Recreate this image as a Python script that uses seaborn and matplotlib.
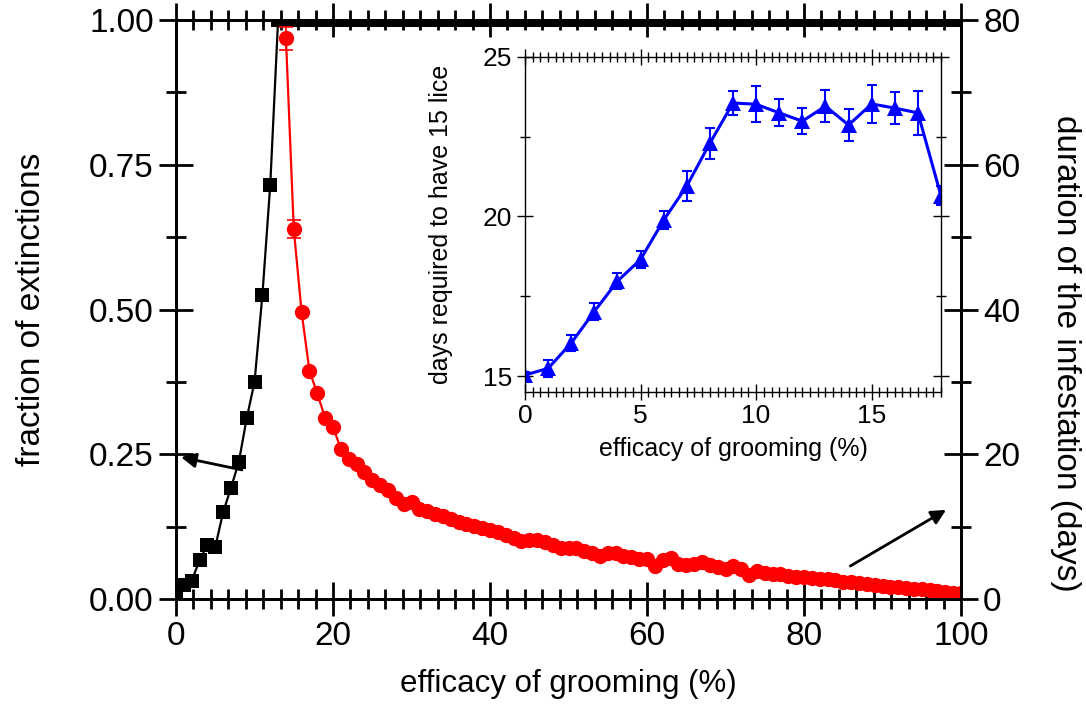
import numpy as np
import pandas as pd
import matplotlib
matplotlib.use("Agg")
import matplotlib.pyplot as plt
from matplotlib.ticker import MultipleLocator, AutoMinorLocator, FixedLocator
import seaborn as sns

# ---------------- data ----------------
# fraction of extinctions (left axis), efficacy 0..100 %
ext_x = list(range(0, 101))
ext_first = [0.01, 0.024, 0.032, 0.067, 0.094, 0.090, 0.150, 0.192, 0.237,
             0.312, 0.375, 0.525, 0.715]
ext_y = ext_first + [1.0] * (101 - len(ext_first))

# duration of the infestation (days, right axis), efficacy 14..100 %
dur_x = list(range(14, 101))
dur_y = [77.5, 51.1, 39.6, 31.5, 28.4, 25.0, 23.8, 20.7, 19.4, 18.7,
         17.6, 16.4, 15.8, 15.1, 13.9, 13.2, 13.4, 12.5, 12.1, 11.8,
         11.5, 11.1, 10.7, 10.4, 10.1, 9.8, 9.5, 9.3, 8.9, 8.5,
         8.0, 8.1, 8.2, 7.9, 7.4, 7.0, 7.0, 7.1, 6.7, 6.3,
         5.9, 6.4, 6.3, 6.0, 5.8, 5.6, 5.5, 4.6, 5.4, 5.7,
         4.8, 4.7, 4.8, 5.1, 4.7, 4.4, 4.1, 4.6, 4.1, 3.3,
         3.9, 3.6, 3.5, 3.4, 3.2, 3.0, 3.0, 2.9, 2.8, 2.7,
         2.6, 2.4, 2.3, 2.2, 2.1, 2.0, 1.8, 1.7, 1.6, 1.5,
         1.45, 1.35, 1.25, 1.15, 1.0, 0.9, 0.85]
dur_err_x = [14, 15]
dur_err = [1.6, 1.25]

# inset: days required to have 15 lice, efficacy 0..18 %
ins_x = list(range(0, 19))
ins_y = [15.03, 15.24, 16.03, 17.02, 17.97, 18.65, 19.88, 20.95, 22.29, 23.55,
         23.51, 23.24, 22.98, 23.45, 22.86, 23.52, 23.39, 23.24, 20.64]
ins_err = [0.1, 0.26, 0.26, 0.28, 0.26, 0.28, 0.28, 0.46, 0.49, 0.39,
           0.56, 0.42, 0.41, 0.5, 0.51, 0.59, 0.5, 0.7, 0.3]

xlabel_txt = "efficacy of grooming (%)"
ylabel_left = "fraction of extinctions"
ylabel_right = "duration of the infestation (days)"
ylabel_inset = "days required to have 15 lice"

# ---------------- style ----------------
sns.set_style("ticks")
plt.rcParams["font.family"] = ["Liberation Sans", "DejaVu Sans"]
for k in ["text.color", "axes.labelcolor", "xtick.color", "ytick.color",
          "axes.edgecolor"]:
    plt.rcParams[k] = "black"
plt.rcParams["axes.linewidth"] = 2.0

fig = plt.figure(figsize=(10.86, 7.04), dpi=100)
ax = fig.add_axes([0.1621, 0.1491, 0.7228, 0.8224])

df_ext = pd.DataFrame({"x": ext_x, "y": ext_y})
sns.lineplot(data=df_ext, x="x", y="y", ax=ax, color="black", linewidth=1.6,
             marker="s", markersize=10, markeredgecolor="black", markeredgewidth=0)
ax.set_xlim(0, 100)
ax.set_ylim(0, 1.0)
ax.xaxis.set_major_locator(MultipleLocator(20))
ax.xaxis.set_minor_locator(AutoMinorLocator(9))
ax.yaxis.set_major_locator(MultipleLocator(0.25))
ax.yaxis.set_minor_locator(AutoMinorLocator(2))
ax.set_yticks([0, 0.25, 0.5, 0.75, 1.0])
ax.set_yticklabels(["0.00", "0.25", "0.50", "0.75", "1.00"])
ax.tick_params(which="both", direction="inout", top=True, right=False,
               width=2.0, labelsize=24, pad=4)
ax.tick_params(which="major", length=24)
ax.tick_params(which="minor", length=14)
ax.set_xlabel(xlabel_txt, fontsize=22.5, labelpad=12)
ax.set_ylabel(ylabel_left, fontsize=24, labelpad=30)

ax2 = ax.twinx()
df_dur = pd.DataFrame({"x": dur_x, "y": dur_y})
ax2.errorbar(dur_err_x, dur_y[:2], yerr=dur_err, fmt="none", ecolor="red",
             elinewidth=1.2, capsize=5, capthick=1.2)
sns.lineplot(data=df_dur, x="x", y="y", ax=ax2, color="red", linewidth=1.6,
             marker="o", markersize=11, markeredgecolor="red", markeredgewidth=0)
ax2.set_ylim(0, 80)
ax2.yaxis.set_major_locator(MultipleLocator(20))
ax2.yaxis.set_minor_locator(AutoMinorLocator(2))
ax2.tick_params(which="both", direction="inout", width=2.0, labelsize=24, pad=4)
ax2.tick_params(which="major", length=24)
ax2.tick_params(which="minor", length=14)
ax2.set_xlabel("")
ax2.set_ylabel(ylabel_right, fontsize=24, rotation=270, va="center", ha="center")
ax2.yaxis.set_label_coords(1.1325, 0.425)
for s in ax2.spines.values():
    s.set_linewidth(2.0)

# arrows
ax.annotate("", xy=(0.64, 0.245), xytext=(8.4, 0.223), xycoords="data",
            arrowprops=dict(arrowstyle="-|>", color="black", lw=2,
                            mutation_scale=22, shrinkA=0, shrinkB=0))
ax.annotate("", xy=(98.1, 0.154), xytext=(85.9, 0.057), xycoords="data",
            arrowprops=dict(arrowstyle="-|>", color="black", lw=2,
                            mutation_scale=22, shrinkA=0, shrinkB=0))

# ---------------- inset ----------------
axi = fig.add_axes([0.4834, 0.4432, 0.3831, 0.4763])
df_ins = pd.DataFrame({"x": ins_x, "y": ins_y})
axi.errorbar(ins_x, ins_y, yerr=ins_err, fmt="none", ecolor="blue",
             elinewidth=1.5, capsize=3.5, capthick=1.5)
sns.lineplot(data=df_ins, x="x", y="y", ax=axi, color="blue", linewidth=2.2,
             marker="^", markersize=11, markeredgecolor="blue", markeredgewidth=0)
axi.set_xlim(0, 18)
axi.set_ylim(14.5, 25)
axi.xaxis.set_major_locator(MultipleLocator(5))
axi.xaxis.set_minor_locator(MultipleLocator(1 / 3))
axi.yaxis.set_major_locator(FixedLocator([15, 20, 25]))
axi.yaxis.set_minor_locator(FixedLocator([17.5, 22.5]))
axi.tick_params(which="both", direction="inout", top=True, right=True,
                width=1.0, labelsize=19, pad=3)
axi.tick_params(which="major", length=12)
axi.tick_params(which="minor", length=7)
for s in axi.spines.values():
    s.set_linewidth(1.0)
axi.set_xlabel(xlabel_txt, fontsize=18, labelpad=6)
axi.set_ylabel(ylabel_inset, fontsize=18, labelpad=22)

fig.savefig("out.png", dpi=100)
